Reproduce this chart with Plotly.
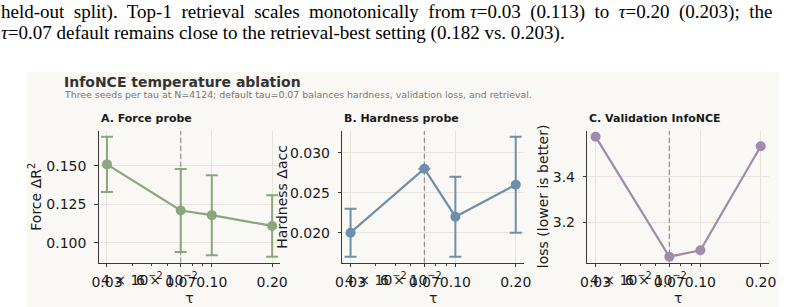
import math
import plotly.graph_objects as go

# ---------------- data ----------------
tau = [0.03, 0.07, 0.10, 0.20]
force_mean = [0.151, 0.121, 0.118, 0.111]
force_err = [0.018, 0.027, 0.026, 0.020]
hard_mean = [0.020, 0.028, 0.022, 0.026]
hard_err = [0.003, 0.0, 0.005, 0.006]
loss_mean = [3.575, 3.050, 3.078, 3.533]
default_tau = 0.07

x_major_vals = [0.03, 0.07, 0.10, 0.20]
x_major_text = ["0.03", "0.07", "0.10", "0.20"]
x_minor_vals = [0.04, 0.05, 0.06, 0.08, 0.09]
x_minor_label_vals = [0.04, 0.06]
x_minor_label_text = ["4 × 10<sup>−2</sup>", "6 × 10<sup>−2</sup>"]
force_ticks = [0.100, 0.125, 0.150]
hard_ticks = [0.020, 0.025, 0.030]
loss_ticks = [3.2, 3.4]

panel_titles = ["A. Force probe", "B. Hardness probe", "C. Validation InfoNCE"]
y_titles = ["Force ΔR<sup>2</sup>", "Hardness Δacc", "loss (lower is better)"]
fig_title = "InfoNCE temperature ablation"
fig_subtitle = ("Three seeds per tau at N=4124; default tau=0.07 balances hardness, "
                "validation loss, and retrieval.")
paper_line1 = ("held-out  split).  Top-1  retrieval  scales  monotonically  from "
               "<i>τ</i>=0.03  (0.113)  to  <i>τ</i>=0.20  (0.203);  the")
paper_line2 = ("<i>τ</i>=0.07 default remains close to the retrieval-best setting "
               "(0.182 vs. 0.203).")

# ---------------- style ----------------
W, H = 804, 307
FONT = "DejaVu Sans"
BG = "#f9f8f5"
GRID = "#e8e4dc"
SPINE = "#3a3a3a"
TXT = "#1a1a1a"
colors = ["#8aa67e", "#6e8fa9", "#9e8cab"]
TICK_SIZE = 14


def px_x(p):
    return p / W


def px_y(p):
    return 1 - p / H


def padded(lo, hi, frac=0.05):
    d = (hi - lo) * frac
    return [lo - d, hi + d]


lx = [math.log10(min(tau)), math.log10(max(tau))]
x_range = padded(lx[0], lx[1])

yr_force = padded(min(m - e for m, e in zip(force_mean, force_err)),
                  max(m + e for m, e in zip(force_mean, force_err)))
yr_hard = padded(min(m - e for m, e in zip(hard_mean, hard_err)),
                 max(m + e for m, e in zip(hard_mean, hard_err)))
yr_loss = padded(min(loss_mean), max(loss_mean))

AX_TOP, AX_BOT = 130.7, 262.7
x_domains = [[px_x(98.7), px_x(280.4)], [px_x(342.3), px_x(524.0)],
             [px_x(587.3), px_x(769.0)]]
y_domain = [px_y(AX_BOT), px_y(AX_TOP)]
minor_label_y = -(278.5 - AX_BOT) / (AX_BOT - AX_TOP)
y_title_px = [35, 282, 542.5]

fig = go.Figure()

series = [
    (force_mean, force_err, yr_force, force_ticks, ".3f"),
    (hard_mean, hard_err, yr_hard, hard_ticks, ".3f"),
    (loss_mean, None, yr_loss, loss_ticks, ".1f"),
]

for i, (mean, err, yr, yt, fmt) in enumerate(series):
    xa = "x" if i == 0 else f"x{i+1}"
    ya = "y" if i == 0 else f"y{i+1}"
    # default tau reference line
    fig.add_trace(go.Scatter(
        x=[default_tau, default_tau], y=yr, mode="lines",
        line=dict(color="#8a8a8a", width=1.1, dash="5px,3px"),
        xaxis=xa, yaxis=ya, showlegend=False, hoverinfo="skip"))
    tr = dict(x=tau, y=mean, mode="lines+markers",
              line=dict(color=colors[i], width=2.2),
              marker=dict(color=colors[i], size=10),
              xaxis=xa, yaxis=ya, showlegend=False)
    if err is not None:
        tr["error_y"] = dict(type="data", array=err, visible=True,
                             color=colors[i], thickness=2, width=6)
    fig.add_trace(go.Scatter(**tr))

    sfx = "" if i == 0 else str(i + 1)
    fig.layout["xaxis" + sfx] = dict(
        domain=x_domains[i], anchor=ya, type="log", range=x_range,
        automargin=False,
        tickvals=x_major_vals, ticktext=x_major_text, tickangle=0,
        ticks="outside", ticklen=3.5, tickwidth=1, tickcolor=SPINE,
        ticklabelstandoff=3,
        showline=True, linecolor=SPINE, linewidth=1,
        showgrid=True, gridcolor=GRID, gridwidth=1, zeroline=False,
        tickfont=dict(family=FONT, size=TICK_SIZE, color=TXT),
        minor=dict(tickvals=x_minor_vals, ticks="outside", ticklen=2,
                   tickcolor=SPINE, tickwidth=0.8, showgrid=False),
        title=dict(text="τ", font=dict(family=FONT, size=14, color=TXT),
                   standoff=1),
    )
    fig.layout["yaxis" + sfx] = dict(
        domain=y_domain, anchor=xa, range=yr, automargin=False,
        tickvals=yt, tickformat=fmt,
        ticks="outside", ticklen=3.5, tickwidth=1, tickcolor=SPINE,
        ticklabelstandoff=5,
        showline=True, linecolor=SPINE, linewidth=1,
        showgrid=True, gridcolor=GRID, gridwidth=1, zeroline=False,
        tickfont=dict(family=FONT, size=TICK_SIZE, color=TXT),
    )
    # y-axis title
    fig.add_annotation(
        x=px_x(y_title_px[i]), y=px_y((AX_TOP + AX_BOT) / 2),
        xref="paper", yref="paper", text=y_titles[i], textangle=-90,
        showarrow=False, xanchor="center", yanchor="middle",
        font=dict(family=FONT, size=14, color=TXT))
    # matplotlib's labelled minor ticks (overlapping, as in the source figure)
    for v, t in zip(x_minor_label_vals, x_minor_label_text):
        fig.add_annotation(
            x=math.log10(v), y=minor_label_y, xref=xa, yref=f"{ya} domain",
            text=t, showarrow=False, xanchor="center", yanchor="middle",
            font=dict(family=FONT, size=TICK_SIZE, color=TXT))
    fig.add_annotation(
        x=x_domains[i][0], y=px_y(118.5), xref="paper", yref="paper",
        text=f"<b>{panel_titles[i]}</b>", showarrow=False,
        xanchor="left", yanchor="middle",
        font=dict(family=FONT, size=11, color=TXT))

# figure background panel
fig.add_shape(type="rect", xref="paper", yref="paper",
              x0=px_x(26), x1=px_x(779), y0=0, y1=px_y(72),
              fillcolor=BG, line=dict(width=0), layer="below")

fig.add_annotation(x=px_x(62), y=px_y(81.5), xref="paper", yref="paper",
                   text=f"<b>{fig_title}</b>", showarrow=False,
                   xanchor="left", yanchor="middle",
                   font=dict(family=FONT, size=14, color="#333333"))
fig.add_annotation(x=px_x(62), y=px_y(94), xref="paper", yref="paper",
                   text=fig_subtitle, showarrow=False,
                   xanchor="left", yanchor="middle",
                   font=dict(family=FONT, size=9.4, color="#777777"))

# surrounding paper text
fig.add_annotation(x=0, y=px_y(11.5), xref="paper", yref="paper",
                   text=paper_line1, showarrow=False,
                   xanchor="left", yanchor="middle", borderpad=0,
                   font=dict(family="Liberation Serif", size=19, color="#000000"))
fig.add_annotation(x=0, y=px_y(33), xref="paper", yref="paper",
                   text=paper_line2, showarrow=False,
                   xanchor="left", yanchor="middle", borderpad=0,
                   font=dict(family="Liberation Serif", size=19, color="#000000"))

fig.update_layout(
    width=W, height=H, margin=dict(l=0, r=0, t=0, b=0, autoexpand=False),
    paper_bgcolor="#ffffff", plot_bgcolor="#ffffff",
    showlegend=False, font=dict(family=FONT),
)

fig.write_html("out.html")
